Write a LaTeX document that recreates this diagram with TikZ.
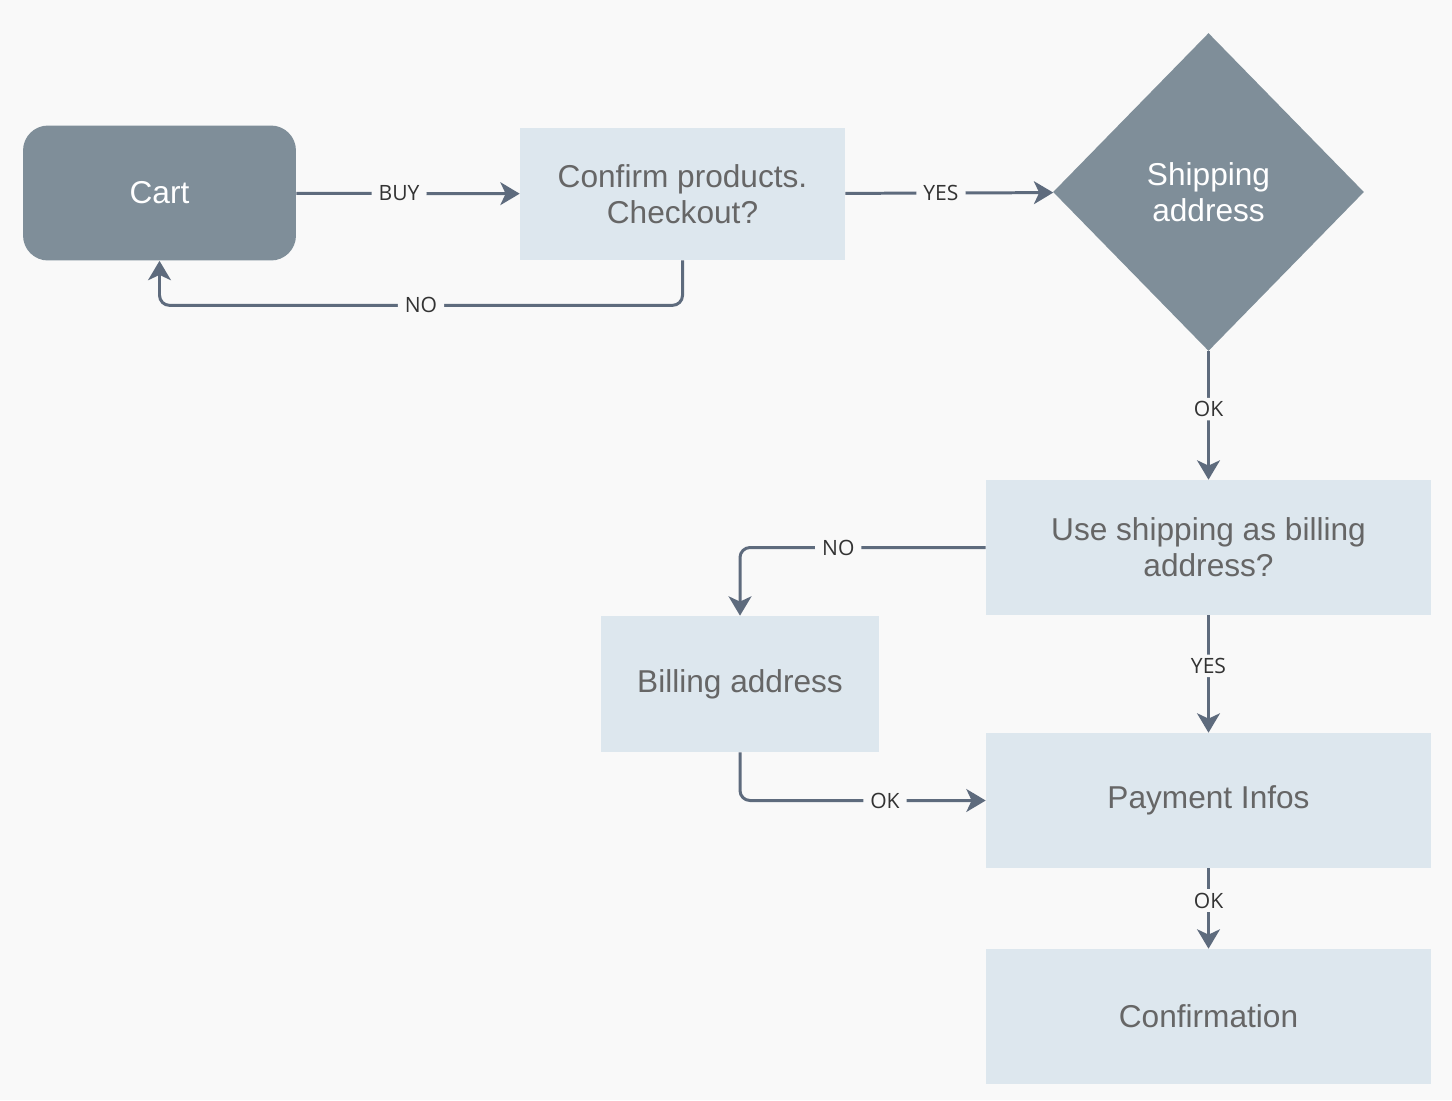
\documentclass[tikz,border=0pt]{standalone}
\usepackage{fontspec}
\setmainfont{Liberation Sans}
\newfontfamily\labelfont{Open Sans}
\usetikzlibrary{shapes.geometric, arrows.meta}
\definecolor{FlowSlate}{HTML}{7F8E99}
\definecolor{FlowMist}{HTML}{DDE7EE}
\definecolor{FlowInk}{HTML}{5E6B7D}
\definecolor{FlowText}{HTML}{666666}
\definecolor{FlowLabel}{HTML}{333333}
\definecolor{FlowPaper}{HTML}{F9F9F9}
\tikzset{
    % Box styles
    startbox/.style={
        rectangle,
        rounded corners=0.5cm,
        fill=FlowSlate,
        text=white,
        minimum width=5.46cm,
        minimum height=2.7cm,
        align=center,
        font=\fontsize{18}{20.5}\selectfont
    },
    stepbox/.style={
        rectangle,
        fill=FlowMist,
        text=FlowText,
        minimum height=2.7cm,
        align=center,
        font=\fontsize{18}{20.5}\selectfont
    },
    decision/.style={
        diamond,
        fill=FlowSlate,
        text=white,
        minimum width=6.22cm,
        minimum height=6.36cm,
        aspect=1,
        inner sep=0pt,
        align=center,
        font=\fontsize{18}{20.5}\selectfont
    },
    % Arrow styles
    arrow/.style={
        -{Stealth[length=11pt, width=13pt, inset=3pt]},
        line width=1.7pt,
        draw=FlowInk,
        rounded corners=0.2cm
    },
    edgelabel/.style={
        fill=FlowPaper,
        text=FlowLabel,
        inner xsep=4pt,
        inner ysep=2pt,
        font=\labelfont\fontsize{12}{14}\selectfont
    }
}

\begin{document}
\begin{tikzpicture}[x=0.02cm, y=-0.02cm]
    \fill[FlowPaper] (0,0) rectangle (1452,1100);

    \node[startbox] (cart) at (159.5,193) {Cart};
    \node[stepbox, minimum width=6.5cm, minimum height=2.64cm] (confirm) at (682.5,194) {Confirm products.\\Checkout?};
    \node[decision] (shipping) at (1208.5,192) {Shipping\\address};
    \node[stepbox, minimum width=8.9cm] (useship) at (1208.5,547.5) {Use shipping as billing\\address?};
    \node[stepbox, minimum width=5.56cm, minimum height=2.72cm] (billing) at (740,684) {Billing address};
    \node[stepbox, minimum width=8.9cm] (payment) at (1208.5,800.5) {Payment Infos};
    \node[stepbox, minimum width=8.9cm] (confirmation) at (1208.5,1016.5) {Confirmation};

    \draw[arrow] (cart) -- node[edgelabel, pos=0.46] {BUY} (confirm);
    \draw[arrow] (confirm.south) -- ++(0,45) -| node[edgelabel, pos=0.25] {NO} (cart.south);
    \draw[arrow] (confirm) -- node[edgelabel, pos=0.46] {YES} (shipping);
    \draw[arrow] (shipping) -- node[edgelabel, pos=0.45] {OK} (useship);
    \draw[arrow] (useship.west) -| node[edgelabel, pos=0.3] {NO} (billing.north);
    \draw[arrow] (useship) -- node[edgelabel, pos=0.43] {YES} (payment);
    \draw[arrow] (billing.south) |- node[edgelabel, pos=0.795] {OK} (payment.west);
    \draw[arrow] (payment) -- node[edgelabel, pos=0.4] {OK} (confirmation);
\end{tikzpicture}
\end{document}
